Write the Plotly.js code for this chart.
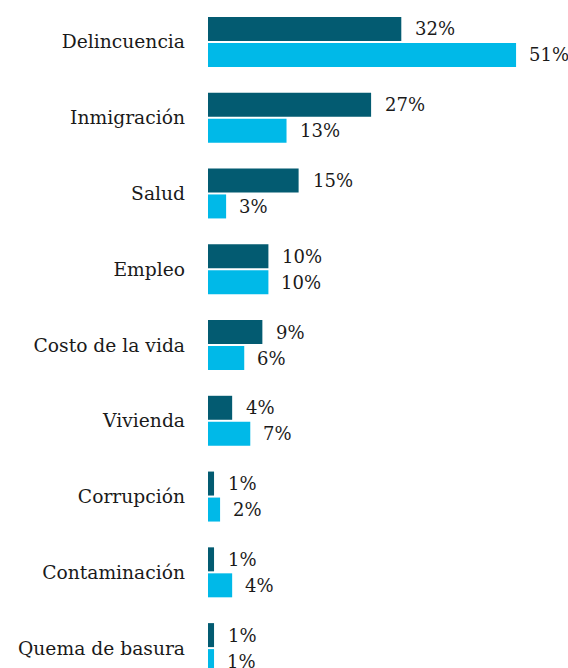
<!DOCTYPE html>
<html>
<head>
<meta charset="utf-8">
<script src="https://cdn.plot.ly/plotly-3.0.1.min.js"></script>
<style>
html, body { margin: 0; padding: 0; background: #fff; overflow: hidden; }
#chart { width: 568px; height: 700px; }
</style>
</head>
<body>
<div id="chart"></div>
<script>
const categories = ["Delincuencia", "Inmigración", "Salud", "Empleo", "Costo de la vida", "Vivienda", "Corrupción", "Contaminación", "Quema de basura"];
const seriesA = [32, 27, 15, 10, 9, 4, 1, 1, 1];
const seriesB = [51, 13, 3, 10, 6, 7, 2, 4, 1];
const colorA = "#035b71";
const colorB = "#00b9e8";
const fontFam = "DejaVu Serif, serif";

const traces = [
  { type: "bar", orientation: "h", name: "A", y: categories, x: seriesA,
    marker: { color: colorA }, hoverinfo: "none" },
  { type: "bar", orientation: "h", name: "B", y: categories, x: seriesB,
    marker: { color: colorB }, hoverinfo: "none" }
];

const annotations = [];
categories.forEach((c, i) => {
  annotations.push({ x: seriesA[i], y: c, xref: "x", yref: "y", text: seriesA[i] + "%",
    showarrow: false, xanchor: "left", yanchor: "middle", xshift: 12, yshift: 13,
    font: { family: fontFam, size: 18, color: "#1a1a1a" } });
  annotations.push({ x: seriesB[i], y: c, xref: "x", yref: "y", text: seriesB[i] + "%",
    showarrow: false, xanchor: "left", yanchor: "middle", xshift: 11, yshift: -13,
    font: { family: fontFam, size: 18, color: "#1a1a1a" } });
});

const layout = {
  width: 568, height: 700,
  margin: { l: 208, r: 3, t: 4, b: 14, pad: 0 },
  barmode: "group", bargap: 0.314, bargroupgap: 0.077,
  showlegend: false,
  paper_bgcolor: "#fff", plot_bgcolor: "#fff",
  xaxis: { range: [0, 59.1], visible: false, fixedrange: true },
  yaxis: { autorange: "reversed", showgrid: false, zeroline: false, showline: false,
    ticks: "", ticklabelstandoff: 22,
    tickfont: { family: fontFam, size: 18.7, color: "#1a1a1a" } },
  annotations: annotations
};

Plotly.newPlot("chart", traces, layout, { displayModeBar: false, staticPlot: true });
</script>
</body>
</html>
